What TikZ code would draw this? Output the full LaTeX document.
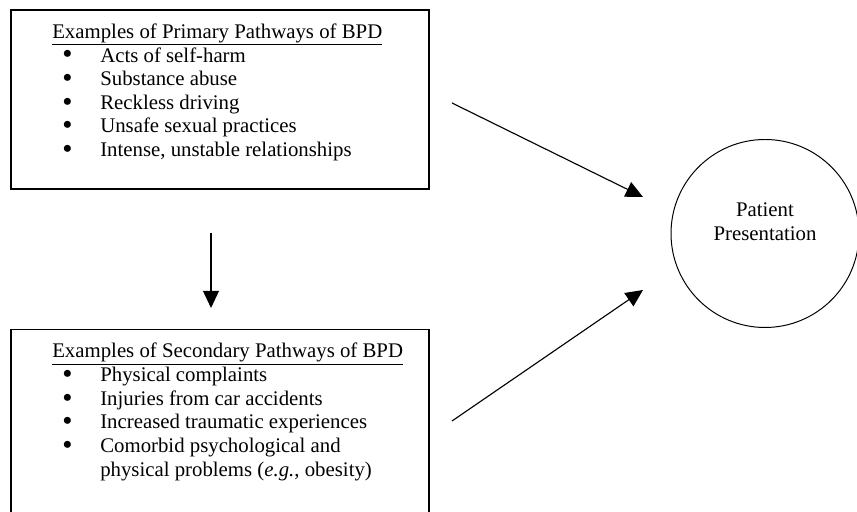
\documentclass[tikz,border=0pt]{standalone}
\usepackage{fontspec}
\setmainfont{Liberation Serif}
\usepackage{tikz}
\usetikzlibrary{positioning, arrows.meta}

\newcommand{\punkt}{\raisebox{-0.09em}{\scalebox{1.4}{\textbullet}}}

\tikzset{
	pathbox/.style={draw, line width=1.1pt, minimum width=10.45cm, inner sep=0pt},
	listtext/.style={inner sep=0pt, font={\fontsize{14.8}{16.8}\selectfont}},
	pfeil/.style={line width=0.8pt, -{Triangle[length=4.3mm, width=4mm]}}
}

\begin{document}
\begin{tikzpicture}
	\useasboundingbox (0,0) rectangle (21.425,12.8);
	% oberer kasten, primaere pfade
	\node[pathbox, minimum height=4.475cm, anchor=north west] (prim) at (0.25,12.575) {};
	\node[listtext, below right=0.31cm and 1.05cm of prim.north west] (primtxt) {%
		\begin{tabular}{@{\hspace{0.25cm}}p{0.95cm}@{}l@{}}
			\multicolumn{2}{@{}l@{}}{\underline{Examples of Primary Pathways of BPD}}\\
			\punkt & Acts of self-harm\\
			\punkt & Substance abuse\\
			\punkt & Reckless driving\\
			\punkt & Unsafe sexual practices\\
			\punkt & Intense, unstable relationships
		\end{tabular}};
	% unterer kasten, sekundaere pfade
	\node[pathbox, minimum height=4.925cm, below=3.475cm of prim] (sec) {};
	\node[listtext, below right=0.31cm and 1.05cm of sec.north west] (sectxt) {%
		\begin{tabular}{@{\hspace{0.25cm}}p{0.95cm}@{}l@{}}
			\multicolumn{2}{@{}l@{}}{\underline{Examples of Secondary Pathways of BPD}}\\
			\punkt & Physical complaints\\
			\punkt & Injuries from car accidents\\
			\punkt & Increased traumatic experiences\\
			\punkt & Comorbid psychological and\\
			 & physical problems (\textit{e.g.}, obesity)
		\end{tabular}};
	% kreis rechts
	\node[draw, circle, line width=0.7pt, minimum size=4.7cm, inner sep=0pt] (pres) at (19.125,6.9625) {};
	\node[listtext, align=center, above=0.29cm of pres.center, anchor=center] (prestxt) {Patient\\Presentation};
	% pfeile
	\coordinate (d1) at (5.275,6.975);
	\coordinate (d2) at (5.275,5.1);
	\coordinate (o1) at (11.3,10.225);
	\coordinate (o2) at (16.075,7.875);
	\coordinate (u1) at (11.3,2.275);
	\coordinate (u2) at (16.075,5.55);
	\draw[pfeil] (d1) -- (d2);
	\draw[pfeil] (o1) -- (o2);
	\draw[pfeil] (u1) -- (u2);
\end{tikzpicture}
\end{document}
